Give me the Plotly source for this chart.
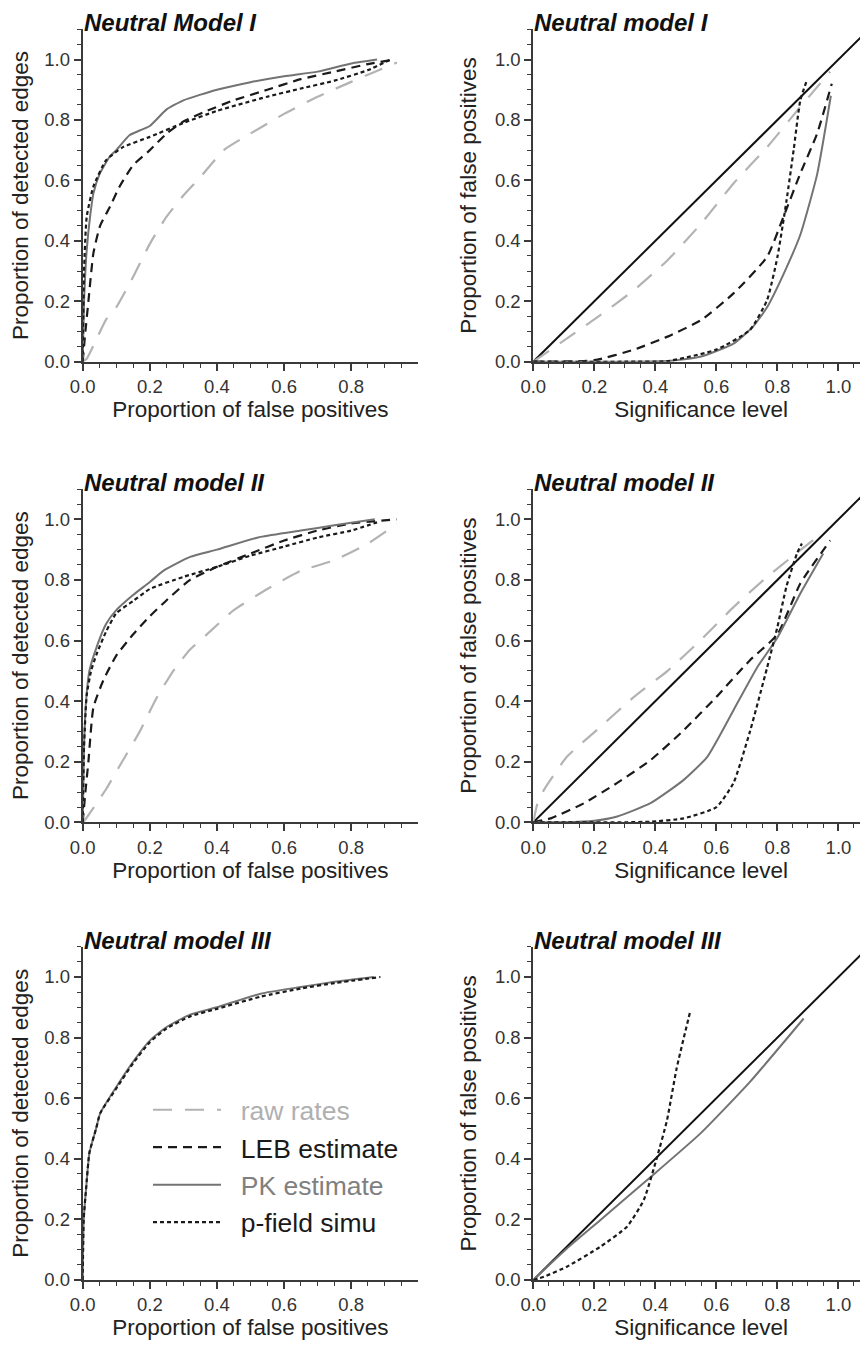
import plotly.graph_objects as go

# ---------------- data ----------------
# Model I - ROC (left)
m1_raw_x = [0.0, 0.012, 0.07, 0.10, 0.15, 0.20, 0.25, 0.30, 0.35, 0.42, 0.50, 0.60, 0.70, 0.80, 0.936]
m1_raw_y = [0.0, 0.01, 0.14, 0.18, 0.28, 0.39, 0.48, 0.55, 0.61, 0.70, 0.755, 0.82, 0.877, 0.926, 0.99]
m1_leb_x = [0.0, 0.008, 0.017, 0.032, 0.052, 0.08, 0.11, 0.15, 0.20, 0.25, 0.30, 0.37, 0.45, 0.55, 0.65, 0.75, 0.85, 0.93]
m1_leb_y = [0.0, 0.10, 0.20, 0.36, 0.45, 0.51, 0.58, 0.65, 0.70, 0.755, 0.795, 0.83, 0.865, 0.90, 0.935, 0.96, 0.985, 1.0]
m1_pk_x = [0.0, 0.004, 0.008, 0.012, 0.022, 0.032, 0.05, 0.08, 0.10, 0.14, 0.17, 0.20, 0.25, 0.30, 0.40, 0.50, 0.60, 0.70, 0.80, 0.877]
m1_pk_y = [0.0, 0.20, 0.30, 0.37, 0.48, 0.557, 0.62, 0.678, 0.70, 0.75, 0.765, 0.78, 0.835, 0.865, 0.90, 0.925, 0.945, 0.96, 0.987, 1.0]
m1_pf_x = [0.0, 0.004, 0.012, 0.032, 0.07, 0.12, 0.20, 0.30, 0.40, 0.55, 0.65, 0.75, 0.85, 0.917]
m1_pf_y = [0.0, 0.30, 0.48, 0.58, 0.667, 0.71, 0.744, 0.79, 0.83, 0.877, 0.904, 0.93, 0.965, 1.0]

# Model I - false positives vs significance (right)
m1s_raw_x = [0.0, 0.20, 0.33, 0.44, 0.55, 0.656, 0.766, 0.864, 0.973]
m1s_raw_y = [0.0, 0.14, 0.237, 0.336, 0.457, 0.59, 0.71, 0.83, 0.96]
m1s_leb_x = [0.0, 0.20, 0.33, 0.44, 0.55, 0.656, 0.766, 0.82, 0.875, 0.93, 0.978]
m1s_leb_y = [0.0, 0.005, 0.04, 0.083, 0.138, 0.226, 0.347, 0.48, 0.623, 0.755, 0.92]
m1s_pk_x = [0.0, 0.30, 0.44, 0.55, 0.656, 0.72, 0.766, 0.82, 0.875, 0.93, 0.975]
m1s_pk_y = [0.0, 0.0, 0.002, 0.017, 0.06, 0.116, 0.18, 0.29, 0.42, 0.62, 0.88]
m1s_pf_x = [0.0, 0.30, 0.44, 0.60, 0.71, 0.766, 0.80, 0.83, 0.853, 0.875, 0.896]
m1s_pf_y = [0.0, 0.0, 0.002, 0.04, 0.105, 0.204, 0.347, 0.535, 0.70, 0.865, 0.93]

# Model II - ROC (left)
m2_raw_x = [0.0, 0.007, 0.07, 0.12, 0.17, 0.22, 0.27, 0.32, 0.37, 0.45, 0.55, 0.65, 0.75, 0.85, 0.936]
m2_raw_y = [0.0, 0.008, 0.11, 0.205, 0.30, 0.41, 0.50, 0.57, 0.62, 0.70, 0.77, 0.83, 0.865, 0.92, 0.985]
m2_leb_x = [0.0, 0.008, 0.017, 0.032, 0.062, 0.10, 0.15, 0.20, 0.25, 0.32, 0.40, 0.50, 0.60, 0.70, 0.80, 0.936]
m2_leb_y = [0.0, 0.10, 0.20, 0.38, 0.47, 0.55, 0.62, 0.68, 0.733, 0.80, 0.843, 0.887, 0.93, 0.963, 0.986, 1.0]
m2_pk_x = [0.0, 0.004, 0.01, 0.02, 0.042, 0.07, 0.10, 0.15, 0.20, 0.24, 0.32, 0.40, 0.53, 0.65, 0.75, 0.87]
m2_pk_y = [0.0, 0.25, 0.40, 0.50, 0.58, 0.655, 0.70, 0.75, 0.793, 0.83, 0.876, 0.90, 0.942, 0.963, 0.98, 1.0]
m2_pf_x = [0.0, 0.004, 0.012, 0.025, 0.042, 0.07, 0.10, 0.15, 0.20, 0.30, 0.40, 0.50, 0.60, 0.70, 0.80, 0.877]
m2_pf_y = [0.0, 0.25, 0.42, 0.50, 0.557, 0.63, 0.69, 0.73, 0.77, 0.81, 0.843, 0.88, 0.91, 0.94, 0.963, 0.99]

# Model II - false positives vs significance (right)
m2s_raw_x = [0.0, 0.013, 0.035, 0.11, 0.22, 0.33, 0.44, 0.547, 0.656, 0.766, 0.875, 0.945]
m2s_raw_y = [0.0, 0.06, 0.107, 0.216, 0.315, 0.414, 0.50, 0.60, 0.71, 0.81, 0.898, 0.953]
m2s_leb_x = [0.0, 0.057, 0.166, 0.275, 0.384, 0.493, 0.60, 0.71, 0.80, 0.875, 0.973]
m2s_leb_y = [0.0, 0.013, 0.063, 0.13, 0.205, 0.304, 0.414, 0.535, 0.62, 0.788, 0.93]
m2s_pk_x = [0.0, 0.10, 0.20, 0.275, 0.384, 0.493, 0.57, 0.656, 0.733, 0.80, 0.875, 0.95]
m2s_pk_y = [0.0, 0.0, 0.005, 0.019, 0.063, 0.14, 0.216, 0.37, 0.51, 0.61, 0.755, 0.887]
m2s_pf_x = [0.0, 0.30, 0.384, 0.493, 0.60, 0.656, 0.71, 0.766, 0.80, 0.83, 0.864, 0.88]
m2s_pf_y = [0.0, 0.0, 0.002, 0.013, 0.05, 0.13, 0.30, 0.51, 0.645, 0.78, 0.887, 0.92]

# Model III - ROC (left)
m3_pk_x = [0.0, 0.003, 0.01, 0.02, 0.04, 0.052, 0.10, 0.15, 0.20, 0.25, 0.32, 0.40, 0.53, 0.65, 0.75, 0.867]
m3_pk_y = [0.0, 0.20, 0.30, 0.42, 0.50, 0.55, 0.637, 0.72, 0.79, 0.835, 0.876, 0.90, 0.945, 0.967, 0.984, 1.0]
m3_pf_x = [0.0, 0.003, 0.01, 0.02, 0.04, 0.052, 0.10, 0.15, 0.20, 0.25, 0.32, 0.40, 0.53, 0.65, 0.75, 0.887]
m3_pf_y = [0.0, 0.20, 0.30, 0.42, 0.50, 0.55, 0.632, 0.715, 0.785, 0.83, 0.87, 0.895, 0.935, 0.962, 0.98, 1.0]

# Model III - false positives vs significance (right)
m3s_pk_x = [0.0, 0.11, 0.22, 0.373, 0.547, 0.71, 0.886]
m3s_pk_y = [0.0, 0.104, 0.198, 0.33, 0.483, 0.654, 0.863]
m3s_pf_x = [0.0, 0.035, 0.11, 0.22, 0.307, 0.362, 0.406, 0.438, 0.47, 0.515]
m3s_pf_y = [0.0, 0.011, 0.044, 0.11, 0.176, 0.264, 0.407, 0.527, 0.70, 0.89]

diag_x = [0.0, 1.1]
diag_y = [0.0, 1.1]

panel_titles = ["Neutral Model I", "Neutral model I", "Neutral model II",
                "Neutral model II", "Neutral model III", "Neutral model III"]
left_xtitle = "Proportion of false positives"
right_xtitle = "Significance level"
left_ytitle = "Proportion of detected edges"
right_ytitle = "Proportion of false positives"
legend_names = ["raw rates", "LEB estimate", "PK estimate", "p-field simu"]

# ---------------- styles ----------------
FONT = "Liberation Sans, Arial, Helvetica, sans-serif"
STY = {
    "raw": dict(color="#b3b3b3", width=2.2, dash="19px,13px", shape="spline", smoothing=0.5),
    "leb": dict(color="#1a1a1a", width=2.2, dash="9px,6px", shape="spline", smoothing=0.5),
    "pk": dict(color="#737373", width=2.0, shape="spline", smoothing=0.5),
    "pf": dict(color="#1a1a1a", width=2.2, dash="4px,3px", shape="spline", smoothing=0.5),
    "diag": dict(color="#111111", width=2.0),
}
LEG_COL = {"raw": "#b0b0b0", "leb": "#1a1a1a", "pk": "#808080", "pf": "#1a1a1a"}

H = 1347.0
W = 868.0
OFF = 8.0  # page body margin compensation
x_left_px = (82.7, 418.0)
x_right_px = (533.3, 869.0)
rows_px = [(29.3, 361.7), (489.0, 822.3), (946.7, 1280.0)]
x_left = [(x_left_px[0] - OFF) / W, (x_left_px[1] - OFF) / W]
x_right = [(x_right_px[0] - OFF) / W, (x_right_px[1] - OFF) / W]
y_doms = [[1 - (b - OFF) / H, 1 - (t - OFF) / H] for (t, b) in rows_px]

fig = go.Figure()

def add(panel, x, y, key, name=None, legend=False):
    fig.add_trace(go.Scatter(
        x=x, y=y, mode="lines", line=STY[key],
        xaxis="x" if panel == 1 else f"x{panel}",
        yaxis="y" if panel == 1 else f"y{panel}",
        name=(f"<span style='color:{LEG_COL[key]}'>\u00a0\u00a0{name}</span>" if name else key),
        showlegend=legend, legendgroup=key, hoverinfo="skip"))

# panel 1 (legend drawn from these)
add(1, m1_raw_x, m1_raw_y, "raw", legend_names[0], True)
add(1, m1_leb_x, m1_leb_y, "leb", legend_names[1], True)
add(1, m1_pk_x, m1_pk_y, "pk", legend_names[2], True)
add(1, m1_pf_x, m1_pf_y, "pf", legend_names[3], True)
# panel 2
add(2, diag_x, diag_y, "diag")
add(2, m1s_raw_x, m1s_raw_y, "raw")
add(2, m1s_leb_x, m1s_leb_y, "leb")
add(2, m1s_pk_x, m1s_pk_y, "pk")
add(2, m1s_pf_x, m1s_pf_y, "pf")
# panel 3
add(3, m2_raw_x, m2_raw_y, "raw")
add(3, m2_leb_x, m2_leb_y, "leb")
add(3, m2_pk_x, m2_pk_y, "pk")
add(3, m2_pf_x, m2_pf_y, "pf")
# panel 4
add(4, diag_x, diag_y, "diag")
add(4, m2s_raw_x, m2s_raw_y, "raw")
add(4, m2s_leb_x, m2s_leb_y, "leb")
add(4, m2s_pk_x, m2s_pk_y, "pk")
add(4, m2s_pf_x, m2s_pf_y, "pf")
# panel 5
add(5, m3_pk_x, m3_pk_y, "pk")
add(5, m3_pf_x, m3_pf_y, "pf")
# panel 6
add(6, diag_x, diag_y, "diag")
add(6, m3s_pk_x, m3s_pk_y, "pk")
add(6, m3s_pf_x, m3s_pf_y, "pf")

axis_common = dict(
    showline=True, linecolor="#3a3a3a", linewidth=2, ticks="outside",
    ticklen=7, tickwidth=1.5, tickcolor="#3a3a3a", showgrid=False, zeroline=False,
    tickfont=dict(family=FONT, size=18.5, color="#333333"),
    minor=dict(ticks="outside", ticklen=4, tickwidth=1.2, tickcolor="#3a3a3a", dtick=0.05, tick0=0, showgrid=False),
    dtick=0.2, tick0=0, tickformat=".1f", fixedrange=True, automargin=False,
)

layout = dict(
    width=868, height=1347, margin=dict(l=0, r=0, t=0, b=0, autoexpand=False),
    paper_bgcolor="white", plot_bgcolor="white",
    font=dict(family=FONT, color="#222222"),
    showlegend=True,
    legend=dict(x=(148 - OFF) / W, y=1 - (1086 - OFF) / H, xanchor="left", yanchor="top",
                font=dict(family=FONT, size=26.5), itemwidth=68,
                bgcolor="rgba(0,0,0,0)", traceorder="normal", tracegroupgap=0),
)

annotations = []
for p in range(1, 7):
    row = (p - 1) // 2
    left = (p % 2 == 1)
    xd = x_left if left else x_right
    yd = y_doms[row]
    xk = "xaxis" if p == 1 else f"xaxis{p}"
    yk = "yaxis" if p == 1 else f"yaxis{p}"
    xa = dict(axis_common)
    xa.update(domain=xd, anchor="y" if p == 1 else f"y{p}",
              range=[0, 0.999] if left else [0, 1.1],
              title=dict(text=left_xtitle if left else right_xtitle,
                         font=dict(family=FONT, size=22.5, color="#222222"), standoff=4))
    ya = dict(axis_common)
    ya.update(domain=yd, anchor="x" if p == 1 else f"x{p}", range=[0, 1.1],
              title=dict(text=left_ytitle if left else right_ytitle,
                         font=dict(family=FONT, size=22.5, color="#222222"), standoff=12))
    layout[xk] = xa
    layout[yk] = ya
    annotations.append(dict(
        text=f"<b><i>{panel_titles[p-1]}</i></b>", xref="paper", yref="paper",
        x=xd[0], y=yd[1], xanchor="left", yanchor="bottom", yshift=-8, showarrow=False,
        borderpad=0, font=dict(family=FONT, size=24, color="#111111")))

layout["annotations"] = annotations
fig.update_layout(**layout)
fig.write_html("out.html")
